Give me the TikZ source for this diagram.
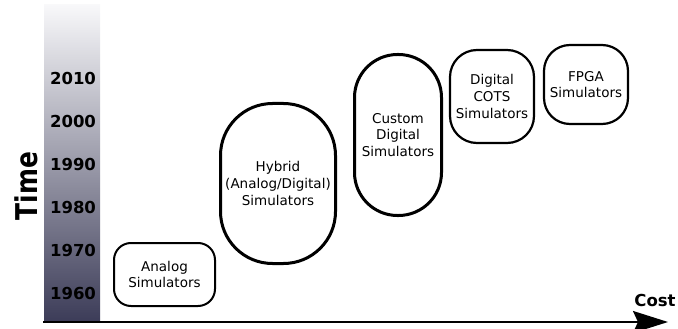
\documentclass[tikz,border=0pt]{standalone}
\usepackage{fontspec}
\usepackage{graphicx}
\setmainfont{DejaVu Sans}
\usetikzlibrary{arrows.meta}
\definecolor{bartop}{HTML}{F8F8FA}
\definecolor{barmid}{HTML}{B5B5C3}
\definecolor{barbot}{HTML}{3C3C58}
\begin{document}
\begin{tikzpicture}[x=1pt,y=-1pt,
  era/.style={draw=black, align=center, inner sep=0pt,
    font=\fontsize{13.5}{16.8}\selectfont},
  year/.style={font=\fontsize{16.5}{16.5}\selectfont\bfseries, inner sep=0pt},
  axislabel/.style={font=\fontsize{16.5}{16.5}\selectfont\bfseries, inner sep=0pt}]
\useasboundingbox (0,0) rectangle (678,329);

% time bar with a vertical fade
\shade[top color=bartop, middle color=barmid, bottom color=barbot]
  (44,5) rectangle (100,322);

% year marks
\node[year] (y2010) at (73,78)  {2010};
\node[year] (y2000) at (73,121) {2000};
\node[year] (y1990) at (73,164) {1990};
\node[year] (y1980) at (73,207) {1980};
\node[year] (y1970) at (73,250) {1970};
\node[year] (y1960) at (73,293) {1960};

% vertical axis title
\node[rotate=90, inner sep=0pt] (time) at (26,186)
  {\scalebox{0.83}[1]{\fontsize{30}{30}\selectfont\bfseries Time}};

% cost axis
\coordinate (origin) at (43,322);
\coordinate (costend) at (668,322);
\draw[line width=2pt, -{Stealth[length=35pt,width=22pt,inset=5pt]}] (origin) -- (costend);
\node[axislabel] (cost) at (655,300) {Cost};

% simulator families
\node[era, line width=2pt, rounded corners=17pt, minimum width=101pt, minimum height=63pt]
  (analog) at (164.5,274.5) {Analog\\Simulators};
\node[era, line width=3pt, rounded corners=52pt, minimum width=115pt, minimum height=160pt]
  (hybrid) at (278,183.5) {Hybrid\\(Analog/Digital)\\Simulators};
\node[era, line width=3pt, rounded corners=43pt, minimum width=87pt, minimum height=161pt]
  (custom) at (398,135) {Custom\\Digital\\Simulators};
\node[era, line width=2.2pt, rounded corners=27pt, minimum width=84pt, minimum height=93pt]
  (cots) at (492,96.5) {Digital\\COTS\\Simulators};
\node[era, line width=2.2pt, rounded corners=26pt, minimum width=84pt, minimum height=79pt]
  (fpga) at (586,84.5) {FPGA\\Simulators};
\end{tikzpicture}
\end{document}
